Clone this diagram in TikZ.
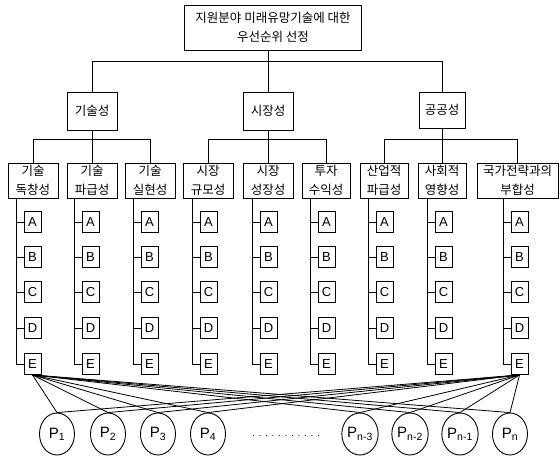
\documentclass[tikz,border=0pt]{standalone}
\usepackage{fontspec}
\setmainfont{Liberation Sans}
\newfontfamily\kr{Noto Sans CJK KR}
\usetikzlibrary{shapes.geometric,positioning,calc}
\tikzset{
  crit/.style={rectangle, draw, line width=1pt, align=center, inner sep=0pt, minimum width=50, minimum height=35, font=\kr\fontsize{12.5}{19}\selectfont},
  alt/.style={rectangle, draw, line width=0.9pt, minimum width=17, minimum height=21, inner sep=0pt, font=\fontsize{13}{13}\selectfont},
  proj/.style={ellipse, draw, line width=0.9pt, minimum width=35, minimum height=42, inner sep=0pt, font=\fontsize{15}{15}\selectfont},
  link/.style={line width=0.8pt}
}
\begin{document}
\begin{tikzpicture}[x=1pt,y=-1pt]
\useasboundingbox (0,0) rectangle (560,458);
\node[crit, minimum width=177, minimum height=45] (goal) at (273,27.5) {지원분야 미래유망기술에 대한\\우선순위 선정};
\node[crit, minimum height=38] (tech) at (92,111) {기술성};
\node[crit, minimum height=38] (mkt) at (268,111) {시장성};
\node[crit, minimum width=46, minimum height=36] (pub) at (442,110) {공공성};
\node[crit] (c1) at (33,180.5) {기술\\독창성};
\node[crit] (c2) at (92,180.5) {기술\\파급성};
\node[crit] (c3) at (150,180.5) {기술\\실현성};
\node[crit] (c4) at (208,180.5) {시장\\규모성};
\node[crit] (c5) at (268,180.5) {시장\\성장성};
\node[crit, minimum width=48] (c6) at (326,180.5) {투자\\수익성};
\node[crit, minimum width=48] (c7) at (384,180.5) {산업적\\파급성};
\node[crit, minimum width=48] (c8) at (442,180.5) {사회적\\영향성};
\node[crit, minimum width=81] (c9) at (517.5,180.5) {국가전략과의\\부합성};
\draw[link] (goal.south -| mkt.north) -- (mkt.north);
\draw[link] (tech.north) -- ++(0,-30) -| (pub.north);
\draw[link] (tech) -- (c2);
\draw[link] (c1.north) -- ++(0,-23) -| (c3.north);
\draw[link] (mkt) -- (c5);
\draw[link] (c4.north) -- ++(0,-23) -| (c6.north);
\draw[link] (pub) -- (c8);
\draw[link] (c7.north) -- ++(0,-23) -| (c9.north);
\foreach \n/\v in {1/16,2/74,3/133,4/192,5/252,6/310,7/368,8/427,9/503} {
  \coordinate (v\n) at (\v,0);
  \foreach \k/\y in {A/222,B/257,C/292,D/328,E/364}
    \node[alt] (\k\n) at (\v+16.5,\y) {\k};
  \draw[link] (c\n.south -| v\n) |- (E\n.west);
  \foreach \k in {A,B,C,D}
    \draw[link] (\k\n.west) -- (\k\n.west -| v\n);
}
\foreach \j/\x/\t in {1/57/1,2/108/2,3/158/3,4/208/4,5/360/n-3,6/410/n-2,7/460/n-1,8/510/n}
  \node[proj] (p\j) at (\x,434) {P\textsubscript{\t}};
\node (dots) at (286,436) {. . . . . . . . . . .};
\foreach \j in {1,...,8} {
  \draw[link] (E1.south) -- (p\j.north);
  \draw[link] (E9.south) -- (p\j.north);
}
\end{tikzpicture}
\end{document}
